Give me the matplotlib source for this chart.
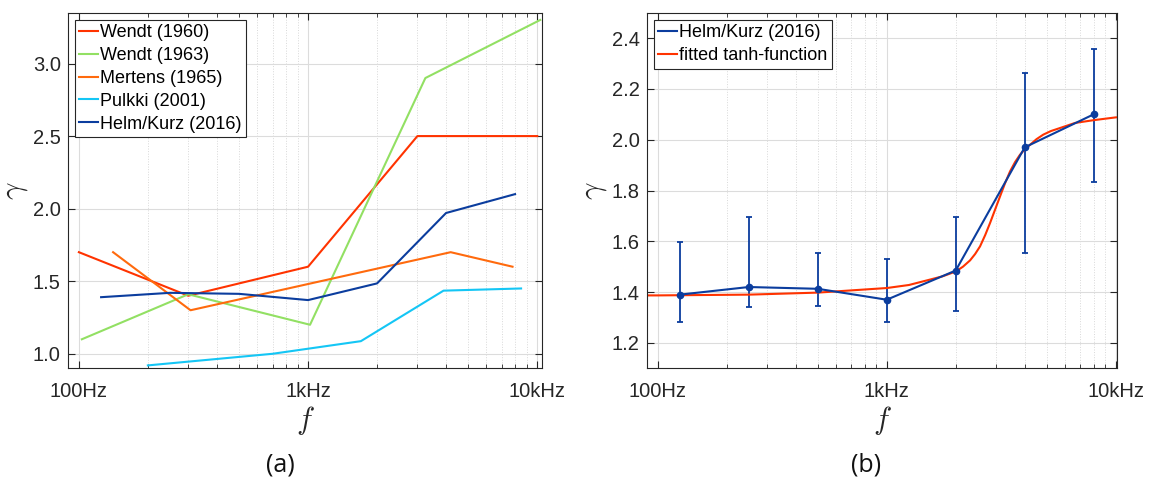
import numpy as np
import matplotlib
matplotlib.use("Agg")
import matplotlib.pyplot as plt
from matplotlib.lines import Line2D
from matplotlib.ticker import FixedLocator, LogLocator, NullFormatter, FixedFormatter

plt.rcParams['font.family'] = ['Liberation Sans', 'DejaVu Sans']
plt.rcParams['mathtext.fontset'] = 'cm'

# ---- data ----
wendt60_f = [100, 300, 1000, 3000, 10000]
wendt60_g = [1.70, 1.40, 1.60, 2.50, 2.50]

wendt63_f = [103, 300, 1020, 3250, 10300]
wendt63_g = [1.10, 1.41, 1.20, 2.90, 3.30]

mertens_f = [141, 307, 4190, 7800]
mertens_g = [1.70, 1.30, 1.70, 1.60]

pulkki_f = [200, 700, 1700, 3900, 8500]
pulkki_g = [0.92, 1.00, 1.087, 1.435, 1.45]

helm_f = [125, 250, 500, 1000, 2000, 4000, 8000]
helm_g = [1.39, 1.42, 1.413, 1.37, 1.485, 1.97, 2.10]
helm_hi = [1.596, 1.697, 1.552, 1.530, 1.696, 2.264, 2.358]
helm_lo = [1.281, 1.341, 1.346, 1.282, 1.324, 1.554, 1.832]

tanh_f = [90, 100, 250, 500, 764, 1000, 1250, 1495, 1750, 2000, 2150, 2310,
          2430, 2553, 2690, 2823, 2970, 3119, 3280, 3450, 3630, 3815, 4010,
          4220, 4500, 4820, 5200, 5700, 6630, 8000, 10000]
tanh_g = [1.387, 1.387, 1.390, 1.398, 1.409, 1.416, 1.428, 1.446, 1.462, 1.481,
          1.500, 1.525, 1.550, 1.580, 1.625, 1.672, 1.725, 1.776, 1.828, 1.875,
          1.912, 1.941, 1.963, 1.980, 2.002, 2.020, 2.034, 2.046, 2.066, 2.077,
          2.088]

c_red = '#FF3300'
c_green = '#92E063'
c_orange = '#FF6A0D'
c_cyan = '#14C6F5'
c_blue = '#0B3D9E'
c_axis = '#262626'

fig = plt.figure(figsize=(11.52, 4.78), dpi=100)
ax1 = fig.add_axes([0.0588, 0.2295, 0.4119, 0.7439])
ax2 = fig.add_axes([0.5614, 0.2295, 0.4085, 0.7439])

lw = 1.5
ax1.plot(wendt60_f, wendt60_g, color=c_red, lw=lw, label='Wendt (1960)')
ax1.plot(wendt63_f, wendt63_g, color=c_green, lw=lw, label='Wendt (1963)')
ax1.plot(mertens_f, mertens_g, color=c_orange, lw=lw, label='Mertens (1965)')
ax1.plot(pulkki_f, pulkki_g, color=c_cyan, lw=lw, label='Pulkki (2001)')
ax1.plot(helm_f, helm_g, color=c_blue, lw=lw, label='Helm/Kurz (2016)')

err = [np.array(helm_g) - np.array(helm_lo), np.array(helm_hi) - np.array(helm_g)]
ax2.errorbar(helm_f, helm_g, yerr=err, color=c_blue, lw=lw, elinewidth=1.3,
             capsize=2.5, capthick=1.3, marker='o', markersize=4.5)
ax2.plot(tanh_f, tanh_g, color=c_red, lw=lw)
handles2 = [Line2D([], [], color=c_blue, lw=lw), Line2D([], [], color=c_red, lw=lw)]
labels2 = ['Helm/Kurz (2016)', 'fitted tanh-function']

ax1.set_xlim(89.4, 10515)
ax1.set_ylim(0.9, 3.35)
ax2.set_xlim(89.7, 10140)
ax2.set_ylim(1.1, 2.5)

ax1.set_yticks([1.0, 1.5, 2.0, 2.5, 3.0])
ax1.set_yticklabels(['1.0', '1.5', '2.0', '2.5', '3.0'])
ax2.set_yticks([1.2, 1.4, 1.6, 1.8, 2.0, 2.2, 2.4])
ax2.set_yticklabels(['1.2', '1.4', '1.6', '1.8', '2.0', '2.2', '2.4'])

leg_kw = dict(loc='upper left', fontsize=13, frameon=True, fancybox=False,
              edgecolor=c_axis, framealpha=1, borderpad=0.25,
              labelspacing=0.32, handlelength=1.05, handletextpad=0.1,
              borderaxespad=0.4)

for ax in (ax1, ax2):
    ax.set_xscale('log')
    ax.xaxis.set_major_locator(FixedLocator([100, 1000, 10000]))
    ax.xaxis.set_major_formatter(FixedFormatter(['100Hz', '1kHz', '10kHz']))
    ax.xaxis.set_minor_locator(LogLocator(base=10, subs=np.arange(2, 10)))
    ax.xaxis.set_minor_formatter(NullFormatter())
    ax.tick_params(which='both', direction='in', top=True, right=True,
                   colors=c_axis, labelsize=14.5)
    ax.tick_params(which='major', length=5, width=0.8)
    ax.tick_params(which='minor', length=3, width=0.6)
    ax.tick_params(axis='x', pad=10)
    ax.tick_params(axis='y', pad=5)
    ax.grid(True, which='major', color='#DCDCDC', lw=0.8, ls='-')
    ax.grid(True, which='minor', axis='x', color='#D8D8D8', lw=0.7, ls=':')
    ax.set_axisbelow(True)
    for s in ax.spines.values():
        s.set_color(c_axis)
        s.set_linewidth(0.8)
    ax.set_xlabel('$f$', fontsize=22, labelpad=2, color=c_axis)
    ax.set_ylabel(r'$\gamma$', fontsize=22, labelpad=2, color=c_axis)

leg1 = ax1.legend(**leg_kw)
leg2 = ax2.legend(handles2, labels2, **leg_kw)
for leg in (leg1, leg2):
    leg.get_frame().set_linewidth(0.8)

fig.text(280 / 1152, 1 - 465 / 478, '(a)', ha='center', va='center',
         fontsize=18, family=['Open Sans', 'DejaVu Sans'], color='#111111')
fig.text(866 / 1152, 1 - 465 / 478, '(b)', ha='center', va='center',
         fontsize=18, family=['Open Sans', 'DejaVu Sans'], color='#111111')

fig.savefig('out.png', dpi=100)
